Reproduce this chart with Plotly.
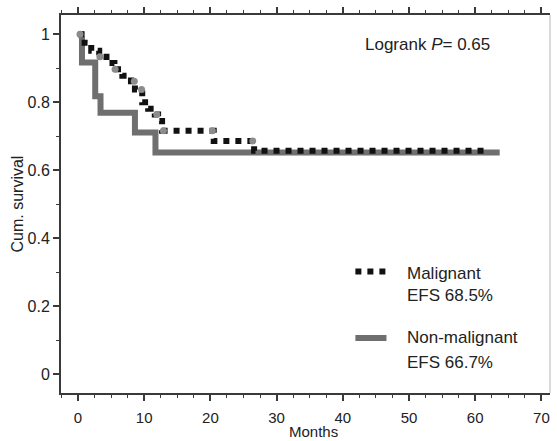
import numpy as np
import plotly.graph_objects as go

# Kaplan-Meier estimates (months, cumulative survival)
malig_time = [0, 1.0, 2.0, 3.2, 4.3, 5.5, 6.7, 8.0, 8.6, 9.7, 10.6, 11.6, 12.1, 12.7, 20.5, 26.6, 61.5]
malig_surv = [1.0, 0.975, 0.952, 0.934, 0.916, 0.897, 0.878, 0.862, 0.838, 0.800, 0.781, 0.764, 0.745, 0.716, 0.686, 0.657, 0.657]
malig_censor = [0.3, 3.3, 5.6, 8.5, 9.6, 11.9, 12.9, 20.3, 26.4]

nonmal_time = [0, 0.6, 2.6, 3.4, 8.6, 11.7, 63.7]
nonmal_surv = [1.0, 0.917, 0.818, 0.769, 0.711, 0.652, 0.652]

x_ticks = [0, 10, 20, 30, 40, 50, 60, 70]
y_ticks = [0, 0.2, 0.4, 0.6, 0.8, 1.0]
y_ticktext = ["0", "0.2", "0.4", "0.6", "0.8", "1"]

legend_labels = [("Malignant", "EFS 68.5%"), ("Non-malignant", "EFS 66.7%")]
logrank_p = "0.65"

FONT = "Liberation Sans, Arial, sans-serif"
TXT = "#222222"
AX = "#3a3a3a"
GRAY = "#6f6f6f"
CENSOR_GRAY = "#8c8c8c"


def step_value(times, surv, t):
    idx = np.searchsorted(np.asarray(times), t, side="right") - 1
    return surv[max(idx, 0)]


fig = go.Figure()

# non-malignant: solid gray step curve
fig.add_trace(go.Scatter(
    x=nonmal_time, y=nonmal_surv, mode="lines", line_shape="hv",
    line=dict(color=GRAY, width=6), showlegend=False, hoverinfo="skip"))

# malignant: dotted black step curve
fig.add_trace(go.Scatter(
    x=malig_time, y=malig_surv, mode="lines", line_shape="hv",
    line=dict(color="#111111", width=6, dash="dot"), showlegend=False, hoverinfo="skip"))

# censored observations on the malignant curve
fig.add_trace(go.Scatter(
    x=malig_censor,
    y=[step_value(malig_time, malig_surv, t) for t in malig_censor],
    mode="markers", marker=dict(color=CENSOR_GRAY, size=7, symbol="circle"),
    showlegend=False, hoverinfo="skip"))

# legend samples drawn inside the plot area
key_x = [41.9, 46.6]
fig.add_trace(go.Scatter(
    x=key_x, y=[0.302, 0.302], mode="lines",
    line=dict(color="#111111", width=6, dash="dot"), showlegend=False, hoverinfo="skip"))
fig.add_trace(go.Scatter(
    x=key_x, y=[0.106, 0.106], mode="lines",
    line=dict(color=GRAY, width=6), showlegend=False, hoverinfo="skip"))

annotations = []
text_x = 49.4
for (name, efs), y1, y2 in zip(legend_labels, [0.296, 0.106], [0.232, 0.035]):
    annotations.append(dict(x=text_x, y=y1, text=name, showarrow=False,
                            xanchor="left", yanchor="middle",
                            font=dict(size=17, color=TXT, family=FONT)))
    annotations.append(dict(x=text_x, y=y2, text=efs, showarrow=False,
                            xanchor="left", yanchor="middle",
                            font=dict(size=17, color=TXT, family=FONT)))

annotations.append(dict(x=43.0, y=0.971, text="Logrank <i>P</i>= " + logrank_p,
                        showarrow=False, xanchor="left", yanchor="middle",
                        font=dict(size=17, color=TXT, family=FONT)))

# axis titles
annotations.append(dict(x=35.6, y=-0.1015, yref="paper", text="Months", showarrow=False,
                        xanchor="center", yanchor="middle", borderpad=0,
                        font=dict(size=15, color=TXT, family=FONT)))
annotations.append(dict(x=-0.089, xref="paper", y=0.5, yref="paper", text="Cum. survival",
                        textangle=-90, showarrow=False, xanchor="center", yanchor="middle",
                        font=dict(size=16, color=TXT, family=FONT)))

fig.update_layout(
    width=557, height=441,
    margin=dict(l=61, r=7, t=13, b=48),
    paper_bgcolor="white", plot_bgcolor="white",
    annotations=annotations,
    shapes=[dict(type="line", xref="paper", yref="paper", x0=1, x1=1, y0=0, y1=1,
                 line=dict(color="#b5b5b5", width=1))],
)

fig.update_xaxes(
    range=[-2.57, 71.3], tickvals=x_ticks, showgrid=False, zeroline=False,
    showline=True, linecolor=AX, linewidth=2, mirror="ticks",
    ticks="outside", ticklen=6, tickwidth=1.5, tickcolor=AX,
    ticklabelstandoff=4,
    tickfont=dict(size=15, color=TXT, family=FONT),
    minor=dict(dtick=2.5, ticks="outside", ticklen=3, tickwidth=1, tickcolor=AX, showgrid=False),
)
fig.update_yaxes(
    range=[-0.056, 1.057], tickvals=y_ticks, ticktext=y_ticktext, showgrid=False, zeroline=False,
    showline=True, linecolor=AX, linewidth=2,
    ticks="outside", ticklen=6, tickwidth=1.5, tickcolor=AX,
    tickfont=dict(size=16, color=TXT, family=FONT),
    minor=dict(dtick=0.1, ticks="outside", ticklen=3, tickwidth=1, tickcolor=AX, showgrid=False),
)

fig.write_html("out.html")
